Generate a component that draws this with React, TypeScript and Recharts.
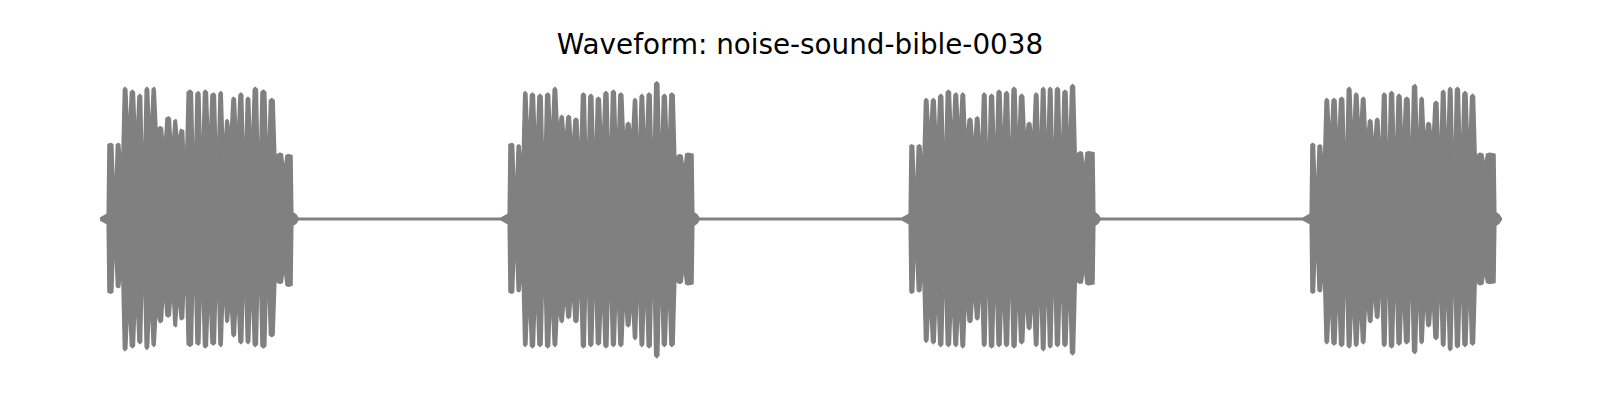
import React from "react";
import { ComposedChart, Area, XAxis, YAxis } from "recharts";

// Time (s) of the start and end of each of the four bursts
const burstStarts = [0.04, 2.045, 4.05, 6.055];
const burstEnds = [0.96, 2.965, 4.97, 6.975];
const waveStart = 0.0;
const waveEnd = 7.01;
const silenceLevel = 0.006;

// Burst 1
const b1Times = [0.054, 0.092, 0.124, 0.162, 0.2, 0.234, 0.27, 0.3, 0.342, 0.379, 0.404, 0.45, 0.492, 0.525, 0.567, 0.605, 0.635, 0.667, 0.705, 0.74, 0.775, 0.817, 0.859, 0.9, 0.942];
const b1Top = [0.54, 0.54, 0.94, 0.92, 0.89, 0.94, 0.94, 0.66, 0.73, 0.71, 0.64, 0.92, 0.91, 0.92, 0.9, 0.91, 0.71, 0.87, 0.9, 0.87, 0.94, 0.92, 0.86, 0.47, 0.46];
const b1Bottom = [0.53, 0.49, 0.94, 0.92, 0.89, 0.93, 0.91, 0.74, 0.7, 0.77, 0.72, 0.91, 0.9, 0.92, 0.9, 0.91, 0.74, 0.84, 0.89, 0.89, 0.91, 0.92, 0.84, 0.46, 0.48];
const b1Gap = [0.14, 0.35, 0.61, 0.56, 0.28, 0.59, 0.65, 0.51, 0.5, 0.55, 0.35, 0.28, 0.37, 0.51, 0.35, 0.49, 0.59, 0.54, 0.35, 0.47, 0.28, 0.37, 0.44, 0.35];

// Burst 2
const b2Times = [2.06, 2.094, 2.125, 2.162, 2.2, 2.239, 2.275, 2.309, 2.342, 2.38, 2.417, 2.454, 2.492, 2.53, 2.567, 2.604, 2.642, 2.675, 2.709, 2.745, 2.784, 2.822, 2.859, 2.9, 2.939];
const b2Top = [0.54, 0.53, 0.91, 0.9, 0.89, 0.9, 0.94, 0.74, 0.74, 0.72, 0.9, 0.89, 0.87, 0.91, 0.92, 0.9, 0.69, 0.86, 0.89, 0.9, 0.98, 0.89, 0.9, 0.46, 0.47];
const b2Bottom = [0.53, 0.52, 0.91, 0.92, 0.91, 0.92, 0.91, 0.74, 0.71, 0.74, 0.92, 0.91, 0.9, 0.92, 0.91, 0.91, 0.77, 0.86, 0.91, 0.92, 0.99, 0.91, 0.91, 0.46, 0.47];
const b2Gap = [0.14, 0.35, 0.55, 0.5, 0.3, 0.55, 0.62, 0.55, 0.5, 0.4, 0.3, 0.35, 0.5, 0.35, 0.45, 0.55, 0.58, 0.4, 0.45, 0.3, 0.38, 0.45, 0.42, 0.35];

// Burst 3
const b3Times = [4.058, 4.097, 4.13, 4.167, 4.203, 4.242, 4.28, 4.313, 4.35, 4.387, 4.42, 4.458, 4.495, 4.533, 4.57, 4.608, 4.647, 4.68, 4.717, 4.75, 4.787, 4.825, 4.863, 4.9, 4.942];
const b3Top = [0.53, 0.53, 0.86, 0.86, 0.89, 0.92, 0.9, 0.9, 0.72, 0.73, 0.9, 0.89, 0.92, 0.91, 0.94, 0.89, 0.69, 0.9, 0.94, 0.94, 0.94, 0.92, 0.96, 0.48, 0.48];
const b3Bottom = [0.53, 0.52, 0.88, 0.89, 0.91, 0.91, 0.91, 0.92, 0.74, 0.72, 0.91, 0.92, 0.91, 0.91, 0.92, 0.89, 0.79, 0.91, 0.94, 0.92, 0.91, 0.91, 0.97, 0.46, 0.47];
const b3Gap = [0.14, 0.35, 0.58, 0.52, 0.32, 0.55, 0.6, 0.55, 0.5, 0.45, 0.3, 0.38, 0.48, 0.32, 0.48, 0.55, 0.55, 0.42, 0.4, 0.3, 0.36, 0.45, 0.44, 0.35];

// Burst 4
const b4Times = [6.063, 6.1, 6.133, 6.17, 6.208, 6.247, 6.28, 6.317, 6.35, 6.387, 6.42, 6.458, 6.495, 6.533, 6.575, 6.608, 6.642, 6.68, 6.717, 6.75, 6.787, 6.825, 6.863, 6.9, 6.947];
const b4Top = [0.54, 0.53, 0.86, 0.86, 0.87, 0.94, 0.9, 0.87, 0.71, 0.72, 0.9, 0.91, 0.89, 0.87, 0.96, 0.87, 0.69, 0.84, 0.92, 0.94, 0.94, 0.91, 0.89, 0.47, 0.47];
const b4Bottom = [0.53, 0.52, 0.89, 0.9, 0.91, 0.92, 0.91, 0.89, 0.74, 0.71, 0.91, 0.92, 0.9, 0.89, 0.96, 0.89, 0.77, 0.86, 0.91, 0.94, 0.92, 0.91, 0.9, 0.47, 0.46];
const b4Gap = [0.14, 0.35, 0.56, 0.5, 0.3, 0.55, 0.6, 0.55, 0.5, 0.42, 0.3, 0.36, 0.5, 0.34, 0.46, 0.55, 0.55, 0.4, 0.44, 0.3, 0.38, 0.45, 0.42, 0.38];

const bursts = [
  { times: b1Times, top: b1Top, bottom: b1Bottom, gap: b1Gap },
  { times: b2Times, top: b2Top, bottom: b2Bottom, gap: b2Gap },
  { times: b3Times, top: b3Top, bottom: b3Bottom, gap: b3Gap },
  { times: b4Times, top: b4Top, bottom: b4Bottom, gap: b4Gap },
];

const title = "Waveform: noise-sound-bible-0038";

type Row = { t: number; band: [number, number] };

function buildEnvelope(): Row[] {
  const rows: Row[] = [];
  const push = (t: number, lo: number, hi: number) => {
    if (rows.length && t <= rows[rows.length - 1].t) t = rows[rows.length - 1].t + 0.0005;
    rows.push({ t, band: [lo, hi] });
  };
  push(waveStart, -silenceLevel, silenceLevel);
  const edge = 0.009;
  const shoulder = 0.985;
  bursts.forEach((b, k) => {
    const s = burstStarts[k];
    const e = burstEnds[k];
    push(s - 0.04, -silenceLevel, silenceLevel);
    push(s - 0.004, -0.035, 0.035);
    const n = b.times.length;
    const c = b.times;
    for (let i = 0; i < n; i++) {
      if (i > 0) {
        const mid = (c[i - 1] + c[i]) / 2;
        push(mid, -b.gap[i - 1], b.gap[i - 1]);
      }
      const L = i === 0 ? s : (c[i - 1] + c[i]) / 2 + edge;
      const R = i === n - 1 ? e : (c[i] + c[i + 1]) / 2 - edge;
      push(L, -b.bottom[i] * shoulder, b.top[i] * shoulder);
      push(Math.min(Math.max(c[i], L + 0.001), R - 0.001), -b.bottom[i], b.top[i]);
      push(R, -b.bottom[i] * shoulder, b.top[i] * shoulder);
    }
    push(e + 0.004, -0.045, 0.045);
    push(e + 0.02, -0.03, 0.03);
    push(e + 0.03, -silenceLevel, silenceLevel);
  });
  push(waveEnd, -silenceLevel, silenceLevel);
  return rows;
}

const envelope = buildEnvelope();

export default function App() {
  return (
    <div style={{ position: "absolute", left: 0, top: 0, width: 1600, height: 400, background: "#ffffff" }}>
      <svg width={1600} height={400} style={{ position: "absolute", left: 0, top: 0 }}>
        <text
          x={800}
          y={54}
          textAnchor="middle"
          fontFamily="DejaVu Sans"
          fontSize={27.8}
          fill="#000000"
        >
          {title}
        </text>
      </svg>
      <div style={{ position: "absolute", left: 0, top: 0 }}>
        <ComposedChart
          width={1600}
          height={400}
          data={envelope}
          margin={{ top: 79, right: 0, bottom: 41, left: 0 }}
        >
          <XAxis dataKey="t" type="number" domain={[-0.5, 7.5]} hide allowDataOverflow />
          <YAxis type="number" domain={[-1, 1]} hide allowDataOverflow />
          <Area
            dataKey="band"
            type="linear"
            fill="#808080"
            fillOpacity={1}
            stroke="#808080"
            strokeWidth={1.5}
            strokeLinejoin="round"
            isAnimationActive={false}
            dot={false}
            activeDot={false}
          />
        </ComposedChart>
      </div>
    </div>
  );
}
